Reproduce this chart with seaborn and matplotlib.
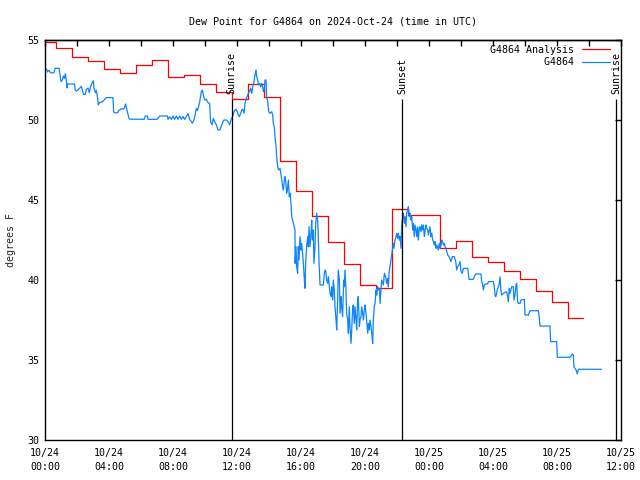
import numpy as np
import pandas as pd
import matplotlib
matplotlib.use("Agg")
import matplotlib.pyplot as plt
import matplotlib.dates as mdates
import matplotlib.ticker as mticker
import seaborn as sns

# ---------------- data ----------------
title = "Dew Point for G4864 on 2024-Oct-24 (time in UTC)"
start = pd.Timestamp("2024-10-24 00:00")

# Analysis (hourly step values), hours since start
ana_hours = [0.0, 0.67, 1.67, 2.67, 3.67, 4.67, 5.67, 6.67, 7.67, 8.67, 9.67,
             10.67, 11.67, 12.67, 13.67, 14.67, 15.67, 16.67, 17.67, 18.67,
             19.67, 20.67, 21.67, 22.67, 23.67, 24.67, 25.67, 26.67, 27.67,
             28.67, 29.67, 30.67, 31.67, 32.67, 33.6]
ana_dewpt = [54.86, 54.48, 53.96, 53.69, 53.19, 52.92, 53.44, 53.73, 52.69,
             52.81, 52.25, 51.73, 51.29, 52.23, 51.42, 47.46, 45.56, 44.02,
             42.36, 41.0, 39.67, 39.48, 44.42, 44.06, 44.06, 41.98, 42.42,
             41.42, 41.13, 40.56, 40.04, 39.31, 38.6, 37.62, 37.62]

# Station observations
obs_hours = [
    0.10, 0.15, 0.25, 0.35, 0.55, 0.63, 0.88, 0.92, 1.0, 1.08, 1.15, 1.22, 1.27,
    1.33, 1.37, 1.4, 1.5, 1.85, 1.88, 1.95, 2.08, 2.18, 2.27, 2.33, 2.4, 2.52,
    2.58, 2.69, 2.77, 2.85, 2.94, 3.02, 3.06, 3.15, 3.21, 3.27, 3.33, 3.42, 3.6,
    3.83, 4.25, 4.29, 4.38, 4.52, 4.62, 4.77, 4.94, 5.04, 5.15, 5.25, 5.3, 5.98,
    6.19, 6.27, 6.4, 6.44, 7.0, 7.17, 7.65, 7.69, 7.79, 7.9, 8.0, 8.1, 8.21,
    8.31, 8.42, 8.52, 8.62, 8.73, 8.83, 8.94, 9.04, 9.15, 9.21, 9.31, 9.4,
    9.46, 9.52, 9.6, 9.67, 9.77, 9.83, 9.92, 9.98, 10.08, 10.19, 10.29, 10.35,
    10.44, 10.52, 10.6, 10.71, 10.81, 10.92, 11.02, 11.125, 11.19, 11.33,
    11.44, 11.54, 11.65,
    11.73, 11.81, 11.875, 11.94, 12.02, 12.08, 12.15, 12.23, 12.29, 12.35,
    12.44, 12.5, 12.56, 12.65, 12.71, 12.77, 12.85, 12.92, 12.98, 13.06,
    13.125, 13.19, 13.23, 13.29, 13.35, 13.42, 13.48, 13.54, 13.6, 13.65,
    13.71, 13.75, 13.81, 13.85, 13.92, 13.98, 14.06, 14.17, 14.23, 14.27,
    14.33, 14.375, 14.44, 14.48, 14.54, 14.6, 14.69, 14.75, 14.79, 14.85,
    14.9, 14.96, 15.0, 15.06, 15.1, 15.15, 15.21, 15.27, 15.31, 15.375, 15.42,
    15.625, 15.63, 15.69, 15.73, 15.79, 15.83, 15.875, 15.94, 16.0, 16.04,
    16.08, 16.15, 16.21, 16.25, 16.29, 16.35, 16.42, 16.46, 16.5, 16.56,
    16.625, 16.67, 16.71, 16.77, 16.81, 16.875, 16.92, 16.98, 17.04, 17.08,
    17.125, 17.19, 17.4, 17.46, 17.5, 17.56, 17.6, 17.67, 17.71, 17.77, 17.81,
    17.875, 17.92, 17.98, 18.02, 18.08, 18.125, 18.19, 18.23, 18.29, 18.33,
    18.4, 18.44, 18.5, 18.54, 18.6, 18.67, 18.71, 18.75, 18.81, 18.85, 18.92,
    18.96, 19.02, 19.06, 19.125, 19.17, 19.23, 19.27, 19.33, 19.375, 19.44,
    19.48, 19.54, 19.58, 19.65, 19.69, 19.75, 19.79, 19.85, 19.9, 19.96, 20.0,
    20.06, 20.1, 20.17, 20.21, 20.27, 20.31, 20.375, 20.42, 20.48, 20.52,
    20.58, 20.625, 20.69, 20.73, 20.79, 20.83, 20.9, 20.94,
    21.04, 21.15, 21.21, 21.29, 21.35, 21.42, 21.46, 21.5, 21.56, 21.625,
    21.67, 21.71, 21.77, 21.81, 21.875, 21.94, 21.98, 22.04, 22.08, 22.15,
    22.19, 22.25, 22.29, 22.33, 22.4, 22.46, 22.5, 22.56, 22.6, 22.67, 22.71,
    22.77, 22.81, 22.875, 22.92, 22.98, 23.02, 23.08, 23.125, 23.19, 23.23,
    23.29, 23.33, 23.4, 23.44, 23.5, 23.54, 23.6, 23.65, 23.71, 23.75, 23.81,
    23.85, 23.92, 23.96, 24.02, 24.06, 24.125, 24.17, 24.23, 24.27, 24.33,
    24.375, 24.44, 24.48, 24.54, 24.58, 24.65, 24.69, 24.75, 24.79, 24.85,
    24.9, 24.96, 25.0, 25.06, 25.17, 25.25, 25.375, 25.46, 25.58, 25.67,
    25.73, 25.79, 25.875,
    25.94, 26.0, 26.08, 26.15, 26.42, 26.46, 26.5, 26.77, 26.83, 26.92, 27.25,
    27.29, 27.35, 27.4, 27.46, 27.54, 27.67, 27.71, 28.02, 28.08, 28.125,
    28.17, 28.23, 28.29, 28.375, 28.44, 28.48, 28.54, 28.65, 28.85, 28.92,
    28.96, 29.02, 29.06, 29.17, 29.27, 29.31, 29.375, 29.44, 29.48, 29.54,
    29.58, 29.69, 29.75, 29.96, 30.0, 30.21, 30.25, 30.31, 30.83, 30.875,
    30.94, 31.56, 31.6, 31.98, 32.02, 32.81, 32.875, 32.96, 33.02, 33.06,
    33.19, 33.27, 33.33, 34.79]
obs_dewpt = [
    53.2, 53.0, 53.1, 52.95, 52.95, 53.23, 53.23, 52.95, 52.4, 52.5, 52.75,
    52.6, 52.9, 52.5, 52.0, 52.25, 52.25, 52.25, 51.9, 51.8, 51.9, 52.0, 52.1,
    51.9, 51.6, 51.6, 51.9, 52.0, 51.7, 52.1, 52.3, 52.45, 52.0, 51.7, 51.85,
    51.5, 50.95, 51.1, 51.15, 51.4, 51.4, 50.5, 50.45, 50.45, 50.6, 50.7,
    50.7, 51.0, 50.5, 50.1, 50.05, 50.05,
    50.04, 50.25, 50.25, 50.04, 50.04, 50.25, 50.25, 50.04, 50.2, 50.04,
    50.25, 50.04, 50.25, 50.04, 50.25, 50.04, 50.22, 50.04, 50.2, 50.4, 50.04,
    49.9, 49.8, 50.0, 50.4, 50.73, 50.6, 50.83, 51.15, 51.77, 51.875, 51.46,
    51.25, 51.3, 51.08, 51.04, 49.9, 49.7, 50.1, 49.9, 49.7, 49.375, 49.375,
    49.6, 49.9, 50.0, 50.0, 49.9, 49.7, 50.1,
    50.21, 50.52, 50.625, 50.67, 50.52, 50.31, 50.21, 50.42, 50.625, 50.67,
    50.42, 51.04, 51.29, 51.5, 51.67, 51.77, 51.98, 51.67, 52.08, 52.4, 52.81,
    53.125, 52.71, 52.5, 52.19, 52.29, 52.08, 52.29, 52.08, 51.77, 51.98, 52.5,
    52.5, 51.46, 51.15, 50.52, 50.42, 50.52, 50.31, 49.79, 49.58, 48.96, 48.33,
    47.71, 47.08, 46.875, 46.98, 46.56, 46.35, 45.83, 45.625, 46.25, 46.46,
    46.04, 45.42, 45.625, 46.25, 45.21, 45.42, 44.79, 43.96,
    43.125, 41.04, 42.08, 40.83, 40.42, 42.08, 41.25, 42.71, 41.875, 42.29,
    41.875, 41.04, 40.0, 39.48, 41.04, 42.08, 42.71, 42.08, 43.33, 42.08,
    42.92, 43.75, 42.5, 43.125, 41.04, 42.08, 43.54, 44.17, 43.75, 42.71,
    41.15, 39.69, 39.69, 40.42, 40.625, 40.52, 40.0, 39.79, 40.21, 39.58,
    39.17, 38.96, 39.58, 38.75, 40.0, 39.375, 38.33, 37.5, 36.875, 38.75,
    40.625, 40.0, 37.92, 38.96, 38.33, 37.71, 40.0, 39.58, 40.625, 39.375,
    37.92, 37.5, 36.67, 38.33, 37.08, 36.04, 36.875, 38.33, 38.44, 37.29,
    38.33, 37.5, 36.875, 38.75, 38.96, 37.08, 37.5, 37.71, 38.33, 37.92, 37.5,
    38.125, 38.44, 37.92, 37.5, 36.67, 37.29, 36.875, 37.5, 37.08, 36.67,
    36.04, 37.5, 38.33, 38.54, 39.375, 39.06, 39.58, 39.375, 39.48, 38.54,
    40.0, 39.69, 40.42, 40.21, 39.79, 40.1, 39.58, 40.42, 40.83, 41.25, 41.56,
    41.875, 42.29, 41.98, 42.5, 42.71, 42.92, 42.6, 42.92, 42.5, 42.71, 41.98,
    43.33, 43.75, 44.17, 43.54, 43.96, 43.33, 44.17, 44.375, 44.58, 43.96,
    44.17, 43.75, 43.96, 43.125, 43.54, 42.71, 43.44, 43.125, 42.71, 43.33,
    42.5, 43.23, 43.33, 43.02, 43.44, 43.125, 43.44, 42.71, 43.02, 43.44,
    43.23, 43.125, 42.81, 43.125, 43.33, 42.71, 42.92, 42.5, 42.4, 42.19,
    42.4, 41.98, 42.19, 42.08, 41.875, 42.29, 41.98, 42.19, 42.5, 42.4, 42.19,
    42.29, 42.08, 41.98, 41.56, 41.46, 41.15, 41.46, 41.46, 41.15, 40.625,
    40.83, 40.94,
    41.15, 40.52, 40.42, 40.73, 40.73, 40.42, 40.04, 40.04, 40.2, 40.375,
    40.375, 39.9, 39.75, 39.375, 39.69, 39.75, 39.75, 39.9, 39.9, 39.58, 39.06,
    38.96, 39.17, 39.48, 39.69, 40.2, 39.48, 39.06, 39.17, 39.27, 38.96, 38.65,
    39.48, 39.17, 39.58, 39.58, 38.75, 39.06, 39.69, 39.79, 38.65, 38.54,
    38.54, 38.75, 38.79, 37.81, 37.81, 37.92, 38.08, 38.08, 37.81, 37.125,
    37.125, 36.15, 36.15, 35.17, 35.17, 35.25, 35.375, 35.31, 34.58, 34.375,
    34.125, 34.42, 34.42]

# Sun events (hours since start)
sun_hours = [11.67, 22.31, 35.69]
sun_labels = ["Sunrise", "Sunset", "Sunrise"]

# x tick positions (hours) and labels
tick_hours = [0, 4, 8, 12, 16, 20, 24, 28, 32, 36]
tick_labels = ["10/24\n00:00", "10/24\n04:00", "10/24\n08:00", "10/24\n12:00",
               "10/24\n16:00", "10/24\n20:00", "10/25\n00:00", "10/25\n04:00",
               "10/25\n08:00", "10/25\n12:00"]
y_ticks = [30, 35, 40, 45, 50, 55]

series_names = ["G4864 Analysis", "G4864"]

# ---------------- plot ----------------
def to_time(h):
    return start + pd.to_timedelta(np.asarray(h, dtype=float), unit="h")

ana = pd.DataFrame({"time": to_time(ana_hours), "dewpt": ana_dewpt})
obs = pd.DataFrame({"time": to_time(obs_hours), "dewpt": obs_dewpt})

sns.set_theme(style="white")
mono = "DejaVu Sans Mono"
plt.rcParams["font.family"] = [mono]
plt.rcParams["font.size"] = 7.2
plt.rcParams["axes.edgecolor"] = "black"
plt.rcParams["axes.linewidth"] = 1.0
plt.rcParams["text.color"] = "black"
plt.rcParams["xtick.color"] = "black"
plt.rcParams["ytick.color"] = "black"

fig = plt.figure(figsize=(6.4, 4.8), dpi=100)
ax = fig.add_axes([45 / 640, 40 / 480, 576 / 640, 400 / 480])

pad = max(len(n) for n in series_names)
sns.lineplot(data=ana, x="time", y="dewpt", ax=ax, color="#ff0000",
             linewidth=0.9, drawstyle="steps-post", estimator=None,
             sort=False, label=series_names[0].rjust(pad))
sns.lineplot(data=obs, x="time", y="dewpt", ax=ax, color="#0a84ff",
             linewidth=0.9, estimator=None, sort=False,
             label=series_names[1].rjust(pad))

sun_times = to_time(sun_hours)
ax.vlines(sun_times, 30, 51.3, color="black", linewidth=0.9)
for t, lab in zip(sun_times, sun_labels):
    ax.text(t, 51.62, lab, rotation=90, ha="center", va="bottom",
            fontsize=7.2, family=mono)

ax.set_xlim(start, start + pd.Timedelta(hours=36))
ax.set_ylim(30, 55)
ax.set_xticks(to_time(tick_hours), tick_labels)
ax.xaxis.set_minor_locator(mdates.HourLocator())
ax.set_yticks(y_ticks)
plt.setp(ax.get_xticklabels(), linespacing=1.45)
ax.tick_params(axis="both", which="major", direction="in", length=4,
               width=1, labelsize=7.2, pad=4, top=False, right=True)
ax.tick_params(axis="x", which="minor", direction="in", length=2, width=1,
               top=False)
ax.tick_params(axis="x", which="major", pad=6)

sec = ax.secondary_xaxis("top")
sec.set_xticks(to_time(list(range(0, 37, 2))))
sec.xaxis.set_minor_locator(mticker.NullLocator())
sec.tick_params(direction="in", length=4, width=1, labeltop=False)

ax.set_xlabel("")
ax.set_ylabel("degrees F", fontsize=7.2, labelpad=8)
ax.set_title(title, fontsize=7.2, pad=11)

leg = ax.legend(loc="upper right", frameon=False, markerfirst=False,
                handlelength=2.8, handletextpad=0.8, labelspacing=0.25,
                borderpad=0, borderaxespad=0,
                bbox_to_anchor=(1 - 11 / 576, 1 - 5 / 400),
                prop={"family": mono, "size": 7.2})

fig.savefig("out.png", dpi=100)
